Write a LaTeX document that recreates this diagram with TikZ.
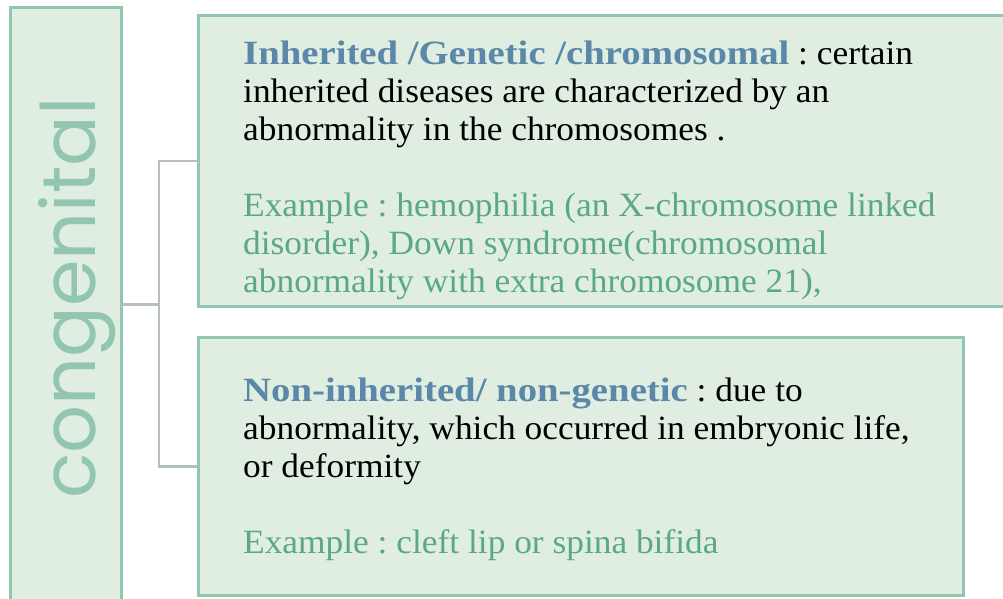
\documentclass[tikz,border=0pt]{standalone}
\usepackage{fontspec}
\setmainfont{Liberation Serif}[FakeStretch=1.04]
\newfontfamily\gothic{Poppins}
\usepackage{xcolor}
\usepackage{tikz}
\usetikzlibrary{positioning, calc}

\definecolor{panelfill}{HTML}{DFEEE1}
\definecolor{paneldraw}{HTML}{93C6B0}
\definecolor{headblue}{HTML}{5B87A8}
\definecolor{examplegreen}{HTML}{5AA884}
\definecolor{linkgray}{HTML}{B4C1B7}

\newcommand{\headword}[1]{\textcolor{headblue}{\bfseries\addfontfeature{FakeStretch=1.14}#1}}
\newcommand{\example}[1]{\textcolor{examplegreen}{#1}}
\frenchspacing

\begin{document}
\begin{tikzpicture}[
    x=1pt, y=-1pt,
    panel/.style={draw=paneldraw, fill=panelfill, line width=2.6pt, anchor=north west, inner sep=0pt},
    body/.style={anchor=base west, align=left, inner sep=0pt, font=\fontsize{34}{38}\selectfont},
    link/.style={draw=linkgray, line width=2.4pt}
]
\useasboundingbox (0,0) rectangle (1003,598);

% Left box
\node[panel, minimum width=111pt, minimum height=594pt] (cong) at (9,6) {};
\node[rotate=90, anchor=base, inner sep=0pt, text=paneldraw,
      font=\fontsize{75}{75}\gothic] (congtxt) at (95,298) {congenital};

% Inherited (node anchored at the baseline of its last line)
\node[panel, minimum width=815pt, minimum height=291pt] (inh) at (197,14) {};
\node[body] (inhtxt) at (243,292)
  {\headword{Inherited /Genetic /chromosomal} : certain\\
   inherited diseases are characterized by an\\
   abnormality in the chromosomes .\\[38pt]
   \example{Example : hemophilia (an X-chromosome linked}\\
   \example{disorder), Down syndrome(chromosomal}\\
   \example{abnormality with extra chromosome 21),}};

% Non-inherited
\node[panel, minimum width=765pt, minimum height=258pt] (noninh) at (197,336) {};
\node[body] (noninhtxt) at (243,553)
  {\headword{Non-inherited/ non-genetic} : due to\\
   abnormality, which occurred in embryonic life,\\
   or deformity\\[38pt]
   \example{Example : cleft lip or spina bifida}};

% Connectors
\coordinate (fork) at (159,303);
\draw[link] (cong.east) -- (cong.east -| fork);
\draw[link] (inh.west) -| (fork) |- (noninh.west);

\end{tikzpicture}
\end{document}
